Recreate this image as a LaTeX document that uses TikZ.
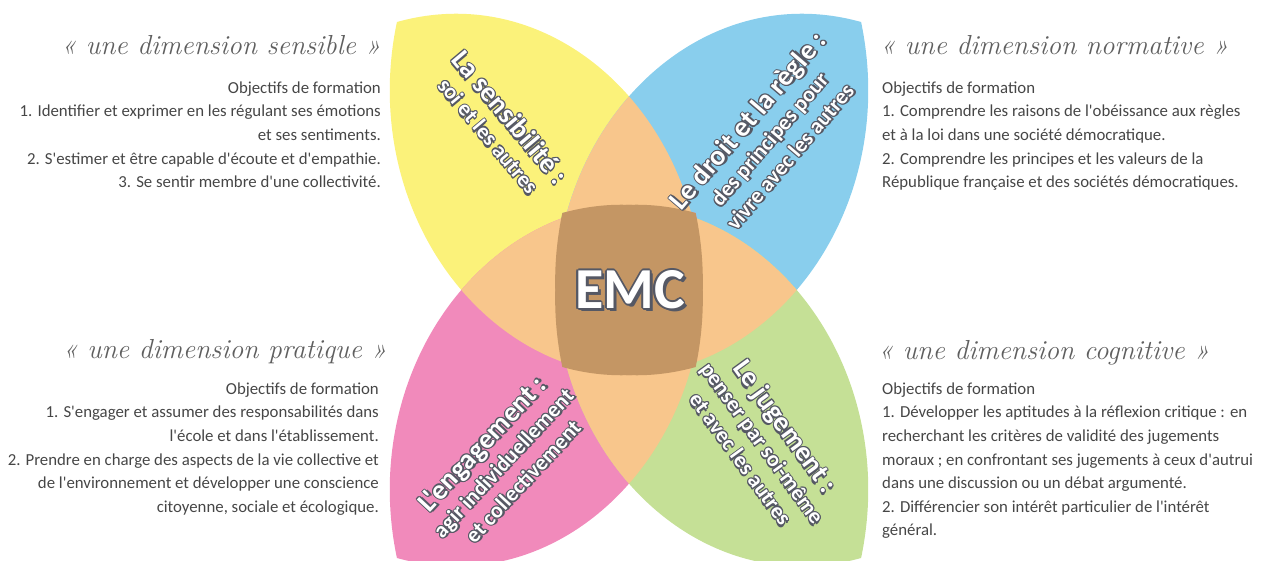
\documentclass[tikz,border=0pt]{standalone}
\usepackage{fontspec}
\setmainfont{Carlito}[Ligatures=TeXOff]
\newfontfamily\handfont{Latin Modern Roman}

\definecolor{petalyellow}{RGB}{251,242,122}
\definecolor{petalblue}{RGB}{137,206,237}
\definecolor{petalpink}{RGB}{241,138,187}
\definecolor{petalgreen}{RGB}{197,224,150}
\definecolor{overlap}{RGB}{248,198,140}
\definecolor{core}{RGB}{196,150,100}
\definecolor{bodygray}{RGB}{70,70,70}
\definecolor{headgray}{RGB}{95,95,95}
\definecolor{rimgray}{RGB}{85,88,100}

% one petal (top left), the others are mirrored
\newcommand{\petal}{(-268,268) .. controls (-60.1,318.3) and (127.3,130.9) .. (77,-77) .. controls (-130.9,-127.3) and (-318.3,60.1) .. (-268,268) -- cycle}

\newlength{\halow}
\newcommand{\haloed}[2][1.1pt]{%
  \setlength{\halow}{#1}%
  \leavevmode
  \rlap{\color{rimgray}\hspace*{1.6\halow}\raisebox{-1.6\halow}{#2}}%
  \rlap{\color{rimgray}\hspace*{\halow}#2}%
  \rlap{\color{rimgray}\hspace*{-\halow}#2}%
  \rlap{\color{rimgray}\raisebox{\halow}{#2}}%
  \rlap{\color{rimgray}\raisebox{-\halow}{#2}}%
  \rlap{\color{rimgray}\hspace*{.7\halow}\raisebox{.7\halow}{#2}}%
  \rlap{\color{rimgray}\hspace*{-.7\halow}\raisebox{.7\halow}{#2}}%
  \rlap{\color{rimgray}\hspace*{.7\halow}\raisebox{-.7\halow}{#2}}%
  \rlap{\color{rimgray}\hspace*{-.7\halow}\raisebox{-.7\halow}{#2}}%
  {\color{white}#2}}

\tikzset{
  head/.style={font=\handfont\itshape\fontsize{27.5}{30}\selectfont, text=headgray, inner sep=0},
  body/.style={font=\fontsize{16.8}{23.6}\selectfont, text=bodygray, inner sep=0},
  petal label/.style={font=\bfseries\fontsize{28}{27}\selectfont, align=center, inner sep=0},
}

\begin{document}
\begin{tikzpicture}[x=1pt,y=1pt]
	\clip (0,0) rectangle (1269,560);
	\begin{scope}[shift={(629,270)},xscale=0.866]
		\fill[petalyellow] \petal;
		\begin{scope}[xscale=-1] \fill[petalblue] \petal; \end{scope}
		\begin{scope}[yscale=-1] \fill[petalpink] \petal; \end{scope}
		\begin{scope}[scale=-1] \fill[petalgreen] \petal; \end{scope}
		% neighbours overlap
		\begin{scope}
			\clip \petal;
			\begin{scope}[xscale=-1] \fill[overlap] \petal; \end{scope}
			\begin{scope}[yscale=-1] \fill[overlap] \petal; \end{scope}
		\end{scope}
		\begin{scope}[scale=-1]
			\clip \petal;
			\begin{scope}[xscale=-1] \fill[overlap] \petal; \end{scope}
			\begin{scope}[yscale=-1] \fill[overlap] \petal; \end{scope}
		\end{scope}
		% opposite petals overlap
		\begin{scope}
			\clip \petal;
			\begin{scope}[scale=-1] \fill[core] \petal; \end{scope}
		\end{scope}
		\begin{scope}[xscale=-1]
			\clip \petal;
			\begin{scope}[scale=-1] \fill[core] \petal; \end{scope}
		\end{scope}
	\end{scope}

	\node[font=\bfseries\fontsize{58}{60}\selectfont, inner sep=0] (emc) at (630,270) {\haloed[1.8pt]{EMC}};

	\node[petal label, rotate=-50] (sens) at (500,434) {\haloed{La sensibilité :}\\{\fontsize{22}{24}\selectfont\haloed{soi et les autres}}};
	\node[petal label, rotate=49.5] (droit) at (768,422) {\haloed{Le droit et la règle :}\\{\fontsize{22}{24}\selectfont\haloed{des principes pour}}\\{\fontsize{22}{24}\selectfont\haloed{vivre avec les autres}}};
	\node[petal label, rotate=47] (engag) at (502,98) {\haloed{L'engagement :}\\{\fontsize{22}{24}\selectfont\haloed{agir individuellement}}\\{\fontsize{22}{24}\selectfont\haloed{et collectivement}}};
	\node[petal label, rotate=-54] (juge) at (764,118) {\haloed{Le jugement :}\\{\fontsize{22}{24}\selectfont\haloed{penser par soi-même}}\\{\fontsize{22}{24}\selectfont\haloed{et avec les autres}}};

	\node[head, anchor=base east] (senshead) at (381,505) {« une dimension sensible »};
	\node[body, anchor=north east, align=right] (sensobj) at (381,478.6) {Objectifs de formation\\1. Identifier et exprimer en les régulant ses émotions\\et ses sentiments.\\2. S'estimer et être capable d'écoute et d'empathie.\\3. Se sentir membre d'une collectivité.};

	\node[head, anchor=base west] (normhead) at (880,505) {« une dimension normative »};
	\node[body, anchor=north west, align=left] (normobj) at (882,478.6) {Objectifs de formation\\1. Comprendre les raisons de l'obéissance aux règles\\et à la loi dans une société démocratique.\\2. Comprendre les principes et les valeurs de la\\République française et des sociétés démocratiques.};

	\node[head, anchor=base east] (prathead) at (387,201) {« une dimension pratique »};
	\node[body, anchor=north east, align=right] (pratobj) at (379,177.6) {Objectifs de formation\\1. S'engager et assumer des responsabilités dans\\l'école et dans l'établissement.\\2. Prendre en charge des aspects de la vie collective et\\de l'environnement et développer une conscience\\citoyenne, sociale et écologique.};

	\node[head, anchor=base west] (coghead) at (878,200) {« une dimension cognitive »};
	\node[body, anchor=north west, align=left] (cogobj) at (882,177.6) {Objectifs de formation\\1. Développer les aptitudes à la réflexion critique : en\\recherchant les critères de validité des jugements\\moraux ; en confrontant ses jugements à ceux d'autrui\\dans une discussion ou un débat argumenté.\\2. Différencier son intérêt particulier de l'intérêt\\général.};
\end{tikzpicture}
\end{document}
